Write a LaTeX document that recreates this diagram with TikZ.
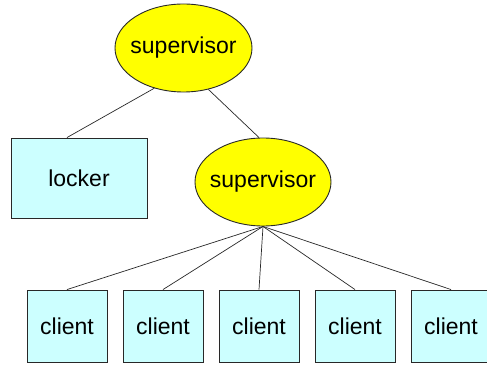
\documentclass[tikz,border=0pt]{standalone}
\usepackage{fontspec}
\setmainfont{Liberation Sans}
\usetikzlibrary{shapes.geometric}
\definecolor{supyellow}{RGB}{255,255,0}
\definecolor{boxcyan}{RGB}{204,255,255}
\definecolor{edgegray}{RGB}{40,40,40}
\tikzset{
  supnode/.style={ellipse, draw=edgegray, line width=0.9pt, fill=supyellow, minimum width=137pt, minimum height=88pt, inner xsep=-35pt, inner ysep=-10pt, font=\fontsize{23}{26}\selectfont},
  boxnode/.style={rectangle, draw=edgegray, line width=0.9pt, fill=boxcyan, inner sep=0pt, font=\fontsize{23}{26}\selectfont},
  clientbox/.style={boxnode, minimum width=80pt, minimum height=72pt},
  link/.style={draw=edgegray, line width=0.7pt}
}
\begin{document}
\begin{tikzpicture}[x=1pt,y=-1pt]
\useasboundingbox (0,0) rectangle (487,366);
\clip (0,0) rectangle (487,366);
\fill[white] (0,0) rectangle (487,366);
\node[supnode] (sup1) at (183.5,48) {supervisor};
\node[boxnode, minimum width=136pt, minimum height=80pt] (locker) at (79,178) {locker};
\node[supnode, minimum width=136pt] (sup2) at (263,182) {supervisor};
\foreach \i/\x in {1/67,2/163,3/259,4/355,5/451}{
  \node[clientbox] (c\i) at (\x,326) {client};
}
\draw[link] (sup1.234) -- ([xshift=-12pt]locker.north);
\draw[link] (sup1.301) -- ([xshift=-4pt]sup2.north);
\foreach \i in {1,...,5}{
  \draw[link] (sup2.south) -- (c\i.north);
}
\end{tikzpicture}
\end{document}
